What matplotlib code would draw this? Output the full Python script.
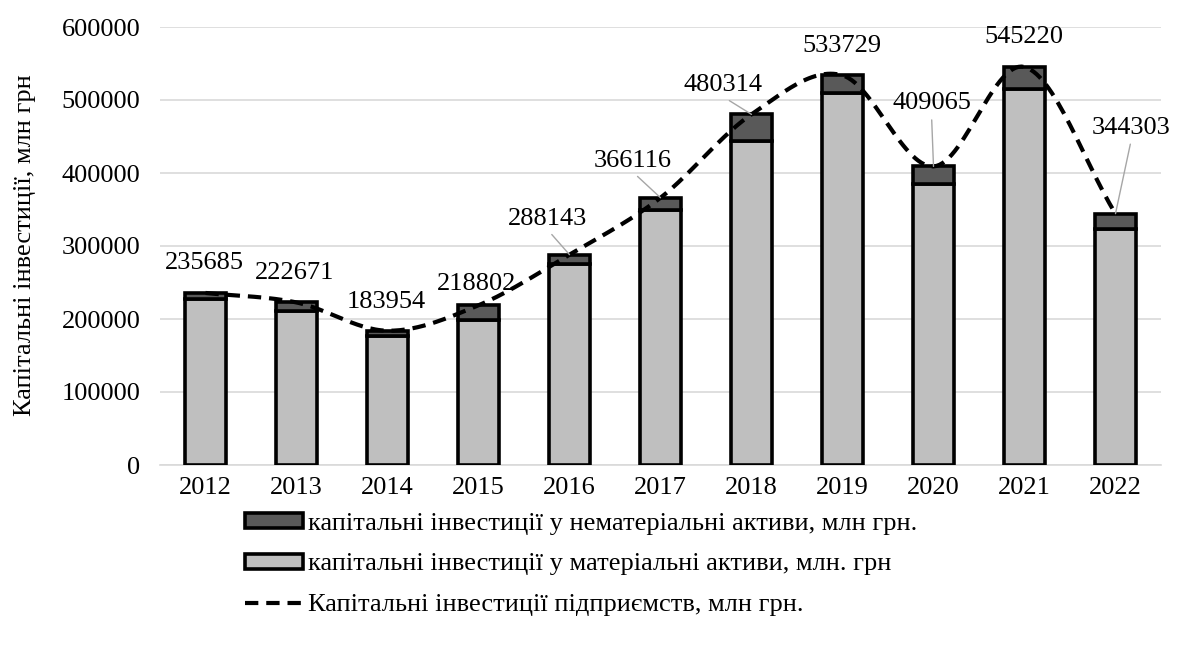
import numpy as np
import matplotlib
matplotlib.use('agg')
import matplotlib.pyplot as plt

years = ['2012', '2013', '2014', '2015', '2016', '2017', '2018', '2019', '2020', '2021', '2022']
total = [235685, 222671, 183954, 218802, 288143, 366116, 480314, 533729, 409065, 545220, 344303]
material = [227000, 211500, 177000, 198500, 276000, 349000, 444500, 510000, 384500, 514500, 323000]
intangible = [t - m for t, m in zip(total, material)]

lbl_intang = 'капітальні інвестиції у нематеріальні активи, млн грн.'
lbl_mat = 'капітальні інвестиції у матеріальні активи, млн. грн'
lbl_total = 'Капітальні інвестиції підприємств, млн грн.'
ylabel = 'Капітальні інвестиції, млн грн'

# label offsets in pixels (dx, dy) and whether a leader line is drawn
lbl_off = [(-1, 30), (-2, 29), (-1, 29), (-2, 21), (-22, 36), (-28, 37),
           (-29, 29), (-1, 29), (-2, 63), (-1, 30), (16, 86)]
leader = [False, False, False, False, True, True, True, False, True, False, True]

plt.rcParams['font.family'] = ['Liberation Serif', 'DejaVu Serif']
FS = 19


def catmull_rom(x, y, n=30):
    x = np.asarray(x, float)
    y = np.asarray(y, float)
    px = np.concatenate([[2 * x[0] - x[1]], x, [2 * x[-1] - x[-2]]])
    py = np.concatenate([[2 * y[0] - y[1]], y, [2 * y[-1] - y[-2]]])
    xs, ys = [], []
    t = np.linspace(0, 1, n, endpoint=False)
    for i in range(1, len(px) - 2):
        for p, out in ((px, xs), (py, ys)):
            p0, p1, p2, p3 = p[i - 1], p[i], p[i + 1], p[i + 2]
            out.append(0.5 * (2 * p1 + (-p0 + p2) * t + (2 * p0 - 5 * p1 + 4 * p2 - p3) * t ** 2
                              + (-p0 + 3 * p1 - 3 * p2 + p3) * t ** 3))
    xs.append([x[-1]])
    ys.append([y[-1]])
    return np.concatenate(xs), np.concatenate(ys)


fig = plt.figure(figsize=(11.77, 6.5), dpi=100)
ax = fig.add_axes([160 / 1177, 1 - 465 / 650, 1001 / 1177, 438 / 650])

x = np.arange(len(years))
w = 0.44
b1 = ax.bar(x, material, w, color='#BFBFBF', edgecolor='black', linewidth=2.6, zorder=3, label=lbl_mat)
b2 = ax.bar(x, intangible, w, bottom=material, color='#595959', edgecolor='black', linewidth=2.6,
            zorder=3, label=lbl_intang)

sx, sy = catmull_rom(x, total)
ln, = ax.plot(sx, sy, color='black', linewidth=3.0, linestyle=(0, (3.2, 1.9)), zorder=4, label=lbl_total)

for i, v in enumerate(total):
    dx, dy = lbl_off[i]
    kw = {}
    if leader[i]:
        kw['arrowprops'] = dict(arrowstyle='-', color='#A6A6A6', lw=1, shrinkA=2, shrinkB=0,
                                relpos=(0.5, 0))
    ax.annotate(str(v), xy=(x[i], v), xytext=(dx, dy), textcoords='offset pixels',
                ha='center', va='center', fontsize=FS, zorder=5, **kw)

ax.set_xlim(-0.5, len(years) - 0.5)
ax.set_ylim(0, 600000)
ax.set_yticks(np.arange(0, 600001, 100000))
ax.set_xticks(x)
ax.set_xticklabels(years)
ax.tick_params(axis='both', length=0, labelsize=FS)
ax.tick_params(axis='y', pad=14)
ax.tick_params(axis='x', pad=9)
ax.grid(axis='y', color='#D9D9D9', linewidth=1.2, zorder=0)
ax.set_axisbelow(True)
for s in ['top', 'right', 'left']:
    ax.spines[s].set_visible(False)
ax.spines['bottom'].set_color('#D9D9D9')
ax.spines['bottom'].set_linewidth(1.2)

fig.text(25 / 1177, 1 - 245 / 650, ylabel, rotation=90, ha='center', va='center', fontsize=FS)

fig.legend([b2, b1, ln], [lbl_intang, lbl_mat, lbl_total], loc='upper left',
           bbox_to_anchor=(245 / 1177, 1 - 513 / 650), frameon=False, fontsize=FS,
           handlelength=2.2, handleheight=0.5, handletextpad=0.2, labelspacing=0.7,
           borderpad=0, borderaxespad=0)

fig.savefig('out.png', dpi=100)
